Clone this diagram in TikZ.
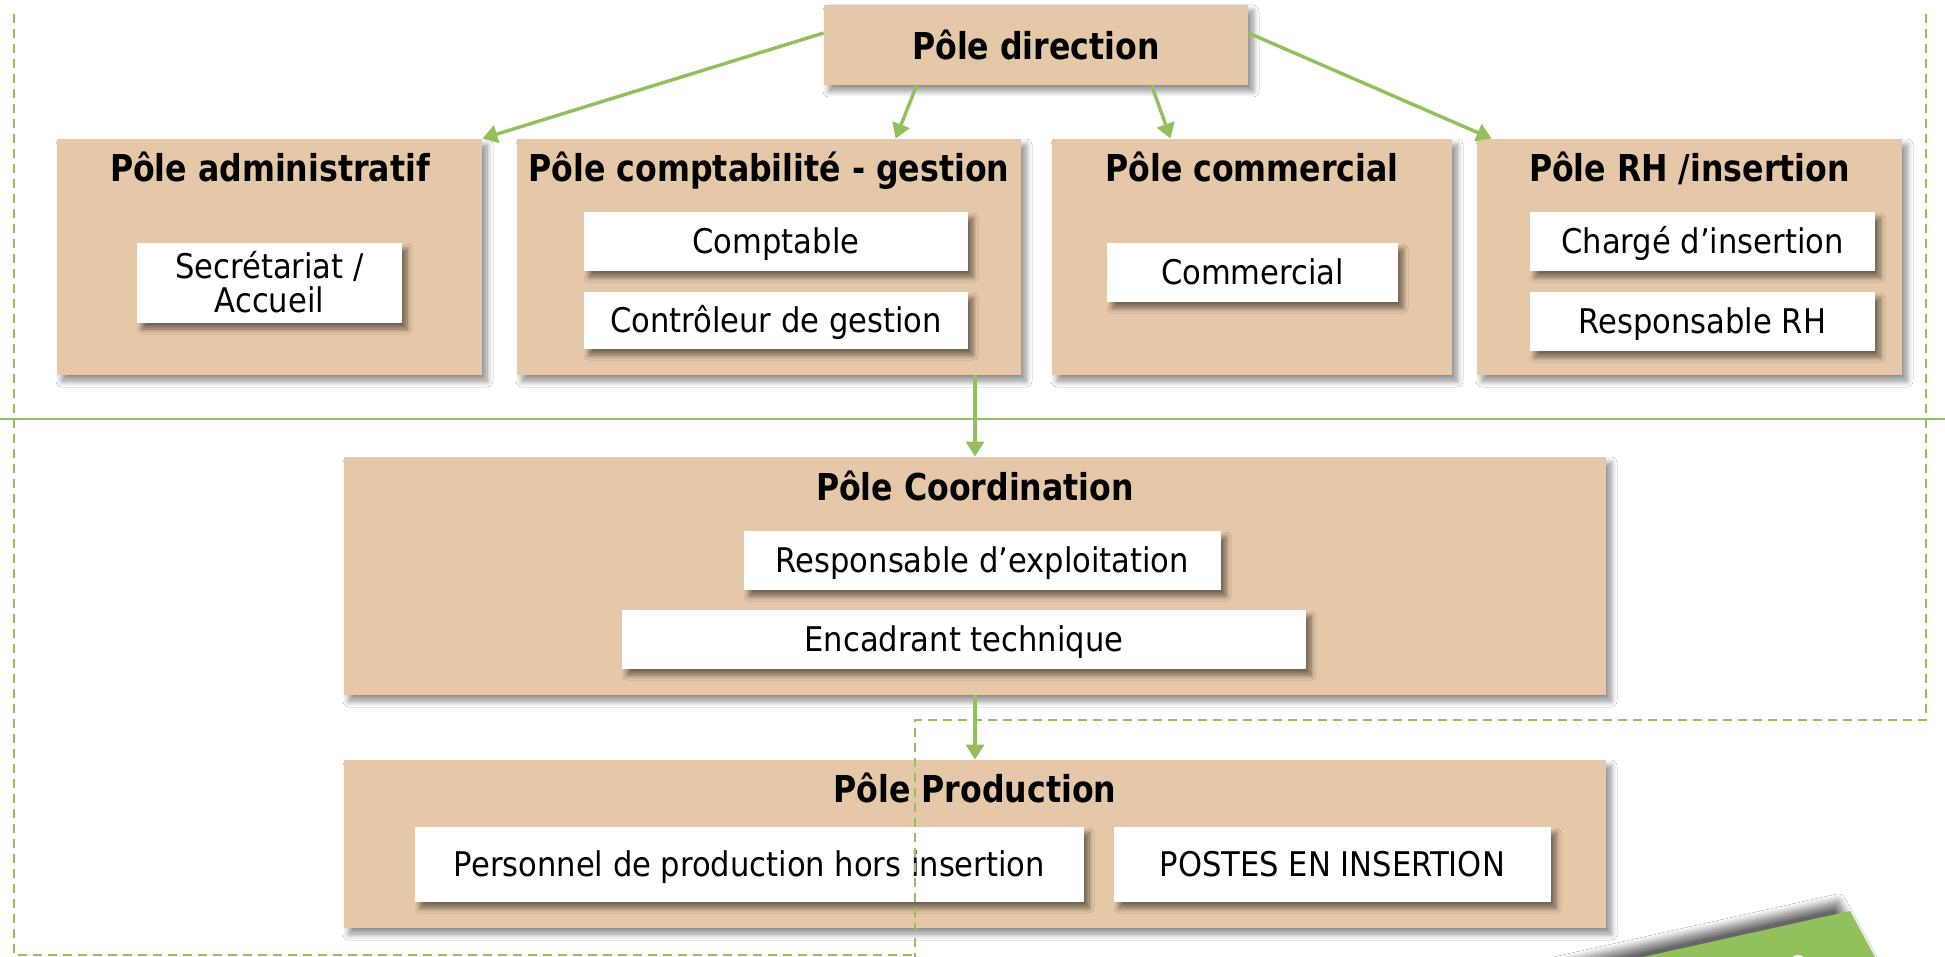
\documentclass[tikz,border=0pt]{standalone}
\usepackage{fontspec}
\setmainfont{DejaVu Sans Condensed}[BoldFont={DejaVu Sans Condensed Bold},BoldFeatures={FakeStretch=0.95}]
\usetikzlibrary{shadows.blur,arrows.meta,calc}

\definecolor{pole}{RGB}{229,200,167}
\definecolor{lien}{RGB}{146,192,92}

% one unit = one pixel of a 1945 x 957 canvas, y pointing down
\tikzset{
  sz/.style 2 args={minimum width=#1*0.5pt, minimum height=#2*0.5pt},
  polebox/.style={rectangle, fill=pole, draw=none, inner sep=0pt,
    blur shadow={shadow xshift=2.5pt, shadow yshift=-3pt, shadow blur radius=3pt,
      shadow blur steps=8, shadow opacity=45}},
  postebox/.style={rectangle, fill=white, draw=none, inner sep=0pt,
    font=\fontsize{17pt}{17pt}\selectfont, text height=12.4pt, text depth=0pt,
    blur shadow={shadow xshift=2.5pt, shadow yshift=-3pt, shadow blur radius=2.5pt,
      shadow blur steps=8, shadow opacity=50}},
  titre/.style={anchor=base, inner sep=0pt, font=\fontsize{18.5pt}{18.5pt}\selectfont\bfseries},
  fleche/.style={draw=lien, line width=1.7pt, -{Triangle[length=7.5pt,width=9pt]}},
  cadre/.style={draw=lien, line width=1pt, dash pattern=on 4.5pt off 3pt},
}

\begin{document}
\begin{tikzpicture}[x=0.5pt, y=-0.5pt]
\useasboundingbox[fill=white] (0,0) rectangle (1945,957);

% poles
\node[polebox, sz={424}{80}]   (dir)    at (1036,45)    {};
\node[polebox, sz={425}{236}]  (adm)    at (269.5,257)  {};
\node[polebox, sz={504}{236}]  (compta) at (769,257)    {};
\node[polebox, sz={400}{236}]  (comm)   at (1252,257)   {};
\node[polebox, sz={425}{236}]  (rh)     at (1689.5,257) {};
\node[polebox, sz={1262}{238}] (coord)  at (975,576)    {};
\node[polebox, sz={1262}{168}] (prod)   at (975,844)    {};

% titles
\node[titre] (tdir)    at (1036,60)  {Pôle direction};
\node[titre] (tadm)    at (270,182)  {Pôle administratif};
\node[titre] (tcompta) at (769,182)  {Pôle comptabilité - gestion};
\node[titre] (tcomm)   at (1252,182) {Pôle commercial};
\node[titre] (trh)     at (1689.5,182) {Pôle RH /insertion};
\node[titre] (tcoord)  at (975,500)  {Pôle Coordination};
\node[titre] (tprod)   at (975,802)  {Pôle Production};

% positions
\node[postebox, sz={265}{80}, align=center, text height=29.4pt, text depth=0pt] (secr)
  at (269.5,283) {Secrétariat /\\Accueil};
\node[postebox, sz={384}{59}] (cpt)   at (776,241.5)    {Comptable};
\node[postebox, sz={384}{57}] (ctrl)  at (776,320.5)    {Contrôleur de gestion};
\node[postebox, sz={291}{59}] (com)   at (1252.5,272.5) {Commercial};
\node[postebox, sz={345}{59}] (chg)   at (1702.5,241.5) {Chargé d’insertion};
\node[postebox, sz={345}{59}] (rrh)   at (1702.5,321.5) {Responsable RH};
\node[postebox, sz={477}{59}] (rexp)  at (982.5,560.5)  {Responsable d’exploitation};
\node[postebox, sz={684}{59}] (enc)   at (964,639.5)    {Encadrant technique};
\node[postebox, sz={669}{75}] (pers)  at (749.5,864.5)  {Personnel de production hors insertion};
\node[postebox, sz={437}{75}] (post)  at (1332.5,864.5) {POSTES EN INSERTION};

% separating line
\draw[lien, line width=1.4pt] (0,419) -- (1945,419);

% links
\draw[fleche] ($(dir.west)+(0,-12)$) -- (adm.north east);
\draw[fleche] ($(dir.south west)+(93,0)$) -- ($(compta.north west)+(379,0)$);
\draw[fleche] ($(dir.south west)+(328,0)$) -- ($(comm.north west)+(119,0)$);
\draw[fleche] ($(dir.east)+(0,-12)$) -- ($(rh.north west)+(15,0)$);
\draw[fleche] (coord.north |- compta.south) -- (coord.north);
\draw[fleche] (coord.south) -- (prod.north);

% dashed frames
\draw[cadre] (14,14) -- (14,955) -- (915,955);
\draw[cadre] (915,962) -- (915,720) -- (1926,720) -- (1926,14);

% green tab in the corner
\begin{scope}
  \clip (0,0) rectangle (1945,957);
  \fill[lien, blur shadow={shadow xshift=-6pt, shadow yshift=4.5pt, shadow blur radius=4pt,
      shadow blur steps=12, shadow opacity=60}]
    (1850,911) -- (1900,1003) -- (1436,1003) -- cycle;
  \fill[white] (1798,963) circle[radius=8];
\end{scope}
\end{tikzpicture}
\end{document}
